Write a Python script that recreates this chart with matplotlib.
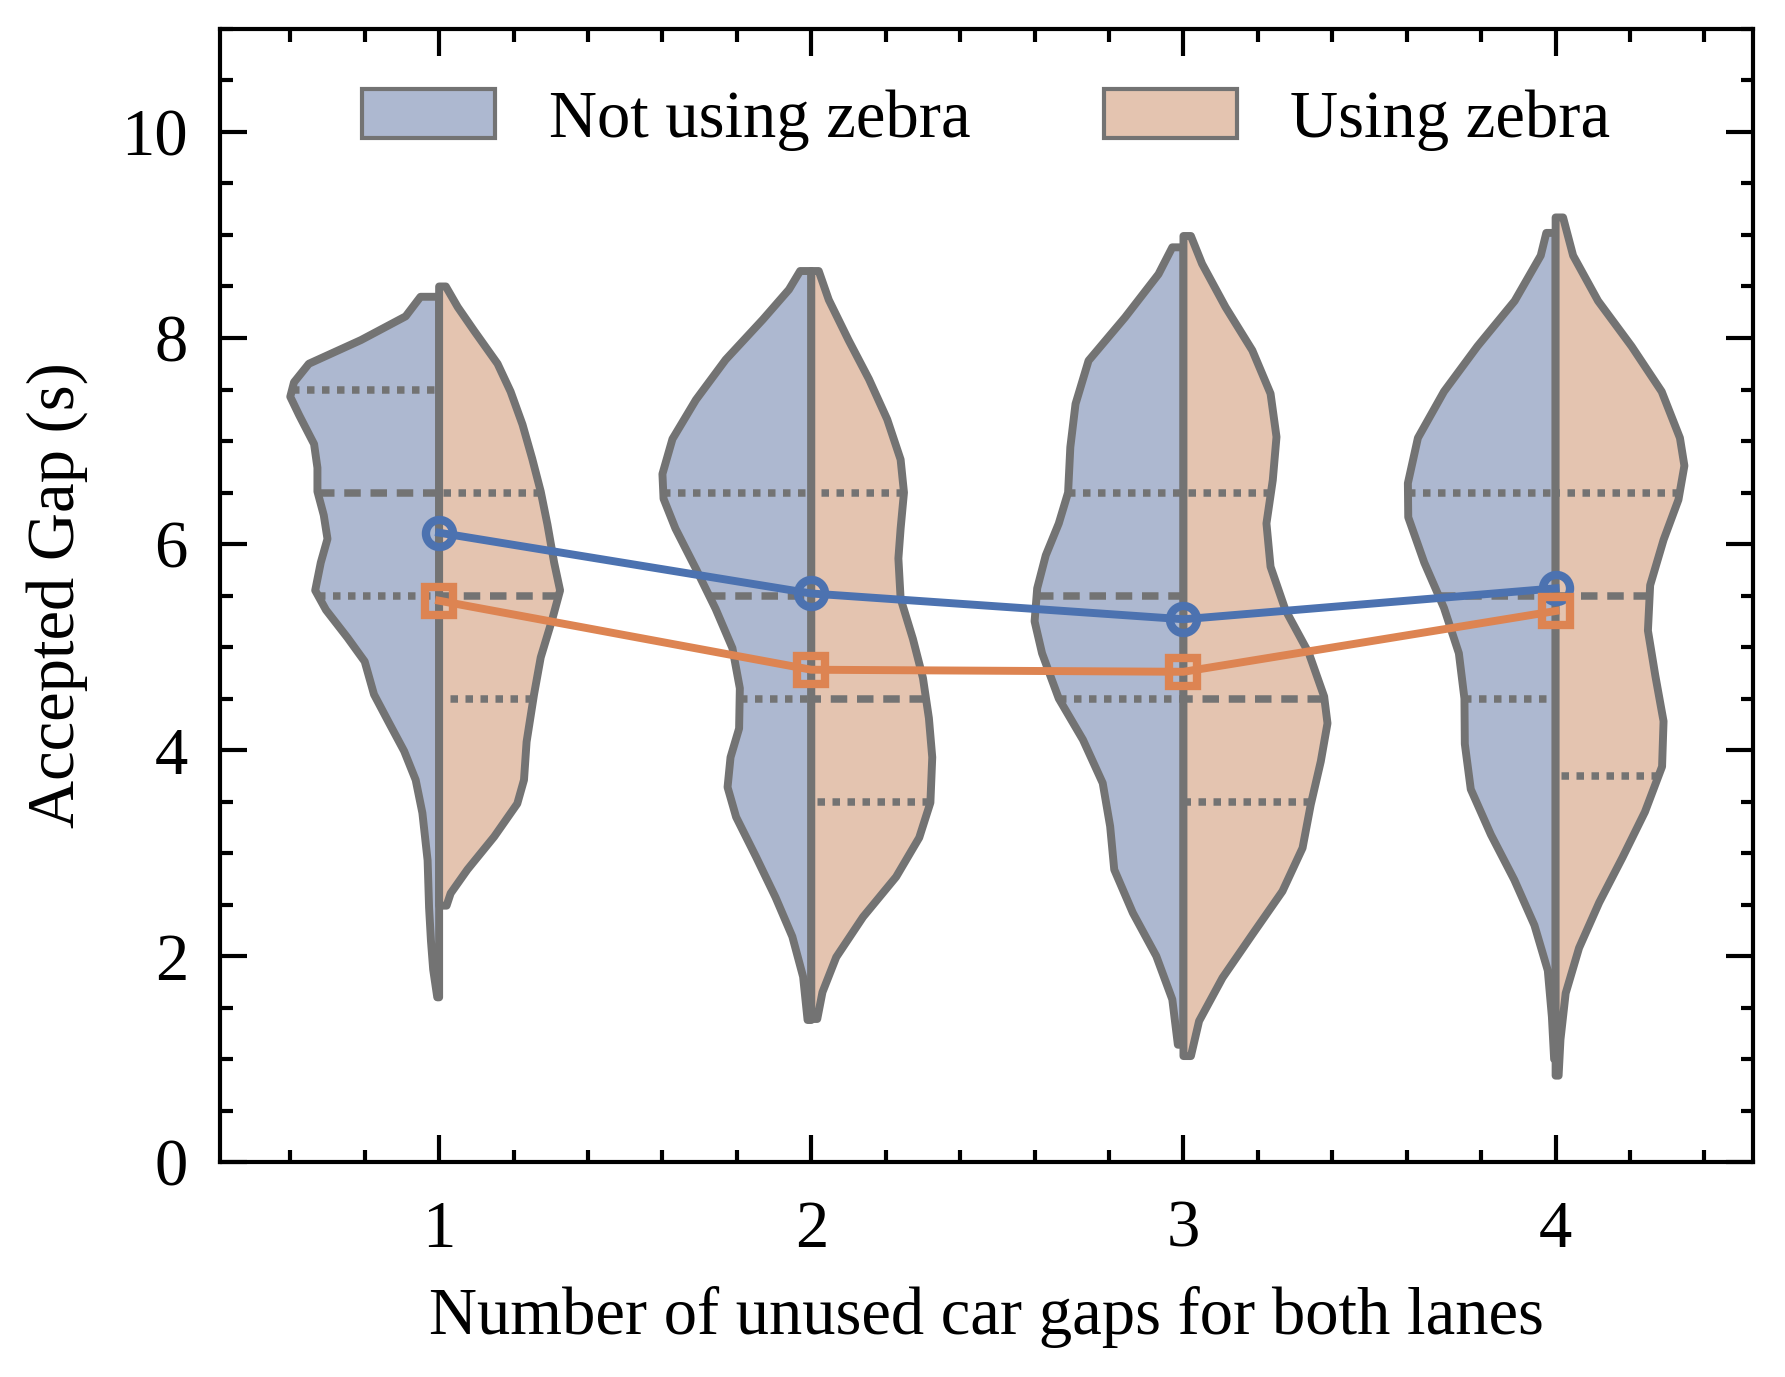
import numpy as np
import matplotlib
matplotlib.use("Agg")
import matplotlib.pyplot as plt
from matplotlib.patches import Patch

plt.rcParams['font.family'] = ['Liberation Serif', 'DejaVu Serif']
plt.rcParams['font.size'] = 16

# categories
gaps = [1, 2, 3, 4]

# violin outlines: y values and half widths
# "Not using zebra" (left halves)
left_y = [
    [1.60, 1.87, 2.15, 2.47, 2.93, 3.39, 3.71, 3.99, 4.26, 4.54, 4.86, 5.09, 5.36, 5.55, 5.82, 6.05, 6.28, 6.51, 6.74, 6.97, 7.25, 7.43, 7.57, 7.75, 7.98, 8.21, 8.40],
    [1.38, 1.80, 2.19, 2.57, 2.96, 3.35, 3.64, 3.93, 4.21, 4.60, 4.99, 5.37, 5.76, 6.15, 6.44, 6.68, 7.02, 7.40, 7.79, 8.18, 8.47, 8.65],
    [1.14, 1.58, 2.00, 2.42, 2.84, 3.26, 3.68, 4.10, 4.50, 4.94, 5.25, 5.57, 5.89, 6.20, 6.50, 6.94, 7.36, 7.78, 8.20, 8.62, 8.88],
    [1.00, 1.41, 1.86, 2.30, 2.74, 3.18, 3.62, 4.06, 4.50, 4.94, 5.38, 5.82, 6.26, 6.59, 7.03, 7.48, 7.92, 8.36, 8.80, 9.02],
]
left_w = [
    [0.005, 0.016, 0.022, 0.027, 0.031, 0.045, 0.063, 0.094, 0.134, 0.175, 0.200, 0.246, 0.304, 0.333, 0.318, 0.300, 0.310, 0.327, 0.327, 0.336, 0.376, 0.400, 0.390, 0.350, 0.210, 0.090, 0.050],
    [0.010, 0.022, 0.051, 0.096, 0.148, 0.202, 0.225, 0.217, 0.194, 0.192, 0.212, 0.257, 0.310, 0.365, 0.397, 0.400, 0.373, 0.310, 0.230, 0.130, 0.060, 0.030],
    [0.015, 0.030, 0.073, 0.136, 0.186, 0.197, 0.217, 0.270, 0.335, 0.380, 0.400, 0.393, 0.370, 0.335, 0.310, 0.304, 0.290, 0.255, 0.157, 0.067, 0.030],
    [0.004, 0.010, 0.021, 0.057, 0.111, 0.174, 0.228, 0.244, 0.245, 0.260, 0.300, 0.353, 0.396, 0.397, 0.370, 0.300, 0.210, 0.110, 0.040, 0.025],
]
# "Using zebra" (right halves)
right_y = [
    [2.49, 2.61, 2.84, 3.16, 3.48, 3.71, 4.08, 4.54, 4.90, 5.27, 5.55, 5.82, 6.19, 6.51, 6.83, 7.16, 7.48, 7.75, 8.07, 8.30, 8.50],
    [1.39, 1.65, 1.99, 2.38, 2.77, 3.15, 3.49, 3.93, 4.31, 4.70, 5.08, 5.47, 5.86, 6.15, 6.50, 6.82, 7.21, 7.60, 7.98, 8.37, 8.65],
    [1.03, 1.37, 1.79, 2.21, 2.63, 3.05, 3.47, 3.89, 4.26, 4.52, 4.94, 5.36, 5.78, 6.20, 6.62, 7.04, 7.46, 7.88, 8.30, 8.72, 8.99],
    [0.84, 1.19, 1.64, 2.08, 2.52, 2.96, 3.40, 3.84, 4.28, 4.72, 5.16, 5.60, 6.04, 6.43, 6.76, 7.03, 7.48, 7.92, 8.36, 8.80, 9.17],
]
right_w = [
    [0.020, 0.031, 0.076, 0.148, 0.210, 0.228, 0.235, 0.255, 0.273, 0.304, 0.325, 0.309, 0.291, 0.273, 0.250, 0.224, 0.192, 0.157, 0.094, 0.050, 0.018],
    [0.016, 0.030, 0.067, 0.139, 0.228, 0.290, 0.320, 0.325, 0.316, 0.300, 0.273, 0.240, 0.234, 0.240, 0.249, 0.240, 0.204, 0.155, 0.100, 0.047, 0.020],
    [0.020, 0.042, 0.105, 0.185, 0.266, 0.320, 0.342, 0.369, 0.387, 0.378, 0.337, 0.274, 0.234, 0.223, 0.240, 0.250, 0.234, 0.185, 0.113, 0.050, 0.020],
    [0.008, 0.013, 0.027, 0.063, 0.117, 0.180, 0.240, 0.286, 0.290, 0.268, 0.248, 0.254, 0.290, 0.330, 0.346, 0.334, 0.285, 0.204, 0.114, 0.047, 0.020],
]

# quartiles (q1, median, q3)
left_q = [[5.5, 6.5, 7.5], [4.5, 5.5, 6.5], [4.5, 5.5, 6.5], [4.5, 5.5, 6.5]]
right_q = [[4.5, 5.5, 6.5], [3.5, 4.5, 6.5], [3.5, 4.5, 6.5], [3.75, 5.5, 6.5]]

# means
mean_not = [6.11, 5.52, 5.27, 5.57]
mean_zebra = [5.45, 4.78, 4.76, 5.35]

fill_not = '#adb8d0'
fill_zebra = '#e4c4b0'
edge = '#737373'
line_not = '#4c72b0'
line_zebra = '#dd8452'

fig = plt.figure(figsize=(1785 / 300, 1377 / 300), dpi=300)
ax = fig.add_axes([0.123, 0.156, 0.859, 0.823])

for i, c in enumerate(gaps):
    for ys, ws, qs, side, fc in [(left_y[i], left_w[i], left_q[i], -1, fill_not),
                                 (right_y[i], right_w[i], right_q[i], 1, fill_zebra)]:
        ys = np.array(ys)
        ws = np.array(ws)
        px = np.concatenate([c + side * ws, [c, c]])
        py = np.concatenate([ys, [ys[-1], ys[0]]])
        ax.fill(px, py, facecolor=fc, edgecolor=edge, linewidth=1.9, zorder=2,
                joinstyle='round')
        for k, q in enumerate(qs):
            wq = np.interp(q, ys, ws)
            ls = (0, (2.2, 1.3)) if k == 1 else (0, (1.0, 1.0))
            ax.plot([c + side * wq, c], [q, q], color=edge, linewidth=1.8,
                    linestyle=ls, zorder=3, dash_capstyle='butt')

ax.plot(gaps, mean_not, color=line_not, linewidth=1.9, marker='o', markersize=6.5,
        markerfacecolor='none', markeredgewidth=2.0, zorder=4)
ax.plot(gaps, mean_zebra, color=line_zebra, linewidth=1.9, marker='s', markersize=6.5,
        markerfacecolor='none', markeredgewidth=2.0, zorder=4)

ax.set_xlim(0.41, 4.53)
ax.set_ylim(0, 11)
ax.set_xticks(gaps)
ax.set_xticks(np.arange(0.6, 4.5, 0.2), minor=True)
ax.set_yticks([0, 2, 4, 6, 8, 10])
ax.set_yticks(np.arange(0, 11.01, 0.5), minor=True)
ax.tick_params(which='both', direction='in', top=True, right=True, width=1.0)
ax.tick_params(which='major', length=6.5, pad=9)
ax.tick_params(axis='y', which='major', pad=7.6)
ax.tick_params(which='minor', length=3)
for s in ax.spines.values():
    s.set_linewidth(1.0)

ax.set_xlabel('Number of unused car gaps for both lanes', labelpad=6)
ax.set_ylabel('Accepted Gap (s)', labelpad=7.9)

handles = [Patch(facecolor=fill_not, edgecolor=edge, linewidth=1.0),
           Patch(facecolor=fill_zebra, edgecolor=edge, linewidth=1.0)]
ax.legend(handles, ['Not using zebra', 'Using zebra'], loc='upper center', ncol=2,
          frameon=False, handlelength=2.0, handleheight=0.75, handletextpad=0.8,
          columnspacing=2.0, bbox_to_anchor=(0.5, 1.0))

fig.savefig('out.png', dpi=300)
